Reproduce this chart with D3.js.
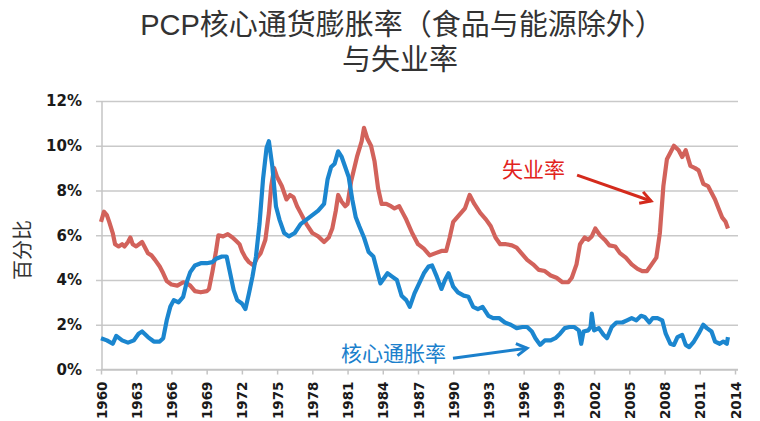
<!DOCTYPE html>
<html>
<head>
<meta charset="utf-8">
<script src="https://cdn.jsdelivr.net/npm/d3@7"></script>
<style>
	body { margin: 0; background: #fff; }
	svg { display: block; }
</style>
</head>
<body>
<div id="chart"></div>
<script>
/* data */
var xTickYears = [1960, 1963, 1966, 1969, 1972, 1975, 1978, 1981, 1984, 1987, 1990, 1993, 1996, 1999, 2002, 2005, 2008, 2011, 2014];
var yTicks = [0, 2, 4, 6, 8, 10, 12];

// unemployment rate (%)
var unempYears = [1960.0, 1960.25, 1960.5, 1960.7, 1961.0, 1961.2, 1961.5, 1961.8, 1962.0, 1962.3, 1962.5, 1962.7, 1963.0, 1963.5, 1964.0, 1964.3, 1964.6, 1965.0, 1965.3, 1965.6, 1966.0, 1966.5, 1967.0, 1967.3, 1967.6, 1968.0, 1968.5, 1969.0, 1969.2, 1969.5, 1969.8, 1970.0, 1970.4, 1970.8, 1971.2, 1971.5, 1971.8, 1972.0, 1972.3, 1972.6, 1973.0, 1973.3, 1973.6, 1974.0, 1974.3, 1974.5, 1974.75, 1975.0, 1975.4, 1975.8, 1976.1, 1976.4, 1976.7, 1977.0, 1977.5, 1978.0, 1978.5, 1979.0, 1979.4, 1979.7, 1980.0, 1980.2, 1980.5, 1980.8, 1981.0, 1981.3, 1981.8, 1982.2, 1982.4, 1982.7, 1983.0, 1983.3, 1983.6, 1983.9, 1984.3, 1984.7, 1985.0, 1985.4, 1985.7, 1986.0, 1986.5, 1987.0, 1987.5, 1988.0, 1988.5, 1989.0, 1989.4, 1989.7, 1990.0, 1990.5, 1991.0, 1991.4, 1991.8, 1992.3, 1992.8, 1993.2, 1993.6, 1994.0, 1994.5, 1995.0, 1995.4, 1995.8, 1996.3, 1996.8, 1997.3, 1997.8, 1998.3, 1998.8, 1999.3, 1999.8, 2000.1, 2000.5, 2000.8, 2001.2, 2001.5, 2001.8, 2002.1, 2002.5, 2002.9, 2003.3, 2003.8, 2004.2, 2004.7, 2005.2, 2005.7, 2006.1, 2006.5, 2006.9, 2007.3, 2007.6, 2007.9, 2008.2, 2008.5, 2008.8, 2009.2, 2009.5, 2009.8, 2010.2, 2010.6, 2010.9, 2011.3, 2011.7, 2012.0, 2012.3, 2012.6, 2012.9, 2013.2, 2013.4];
var unempValues = [6.6, 7.05, 6.9, 6.6, 6.1, 5.6, 5.5, 5.6, 5.5, 5.7, 5.9, 5.6, 5.5, 5.7, 5.2, 5.1, 4.9, 4.6, 4.3, 3.95, 3.8, 3.75, 3.9, 3.85, 3.75, 3.5, 3.45, 3.5, 3.6, 4.4, 5.3, 6.0, 5.95, 6.05, 5.9, 5.75, 5.6, 5.3, 5.0, 4.8, 4.65, 5.0, 5.2, 5.8, 7.0, 8.2, 9.0, 8.6, 8.2, 7.6, 7.8, 7.7, 7.3, 7.0, 6.5, 6.1, 5.95, 5.7, 5.9, 6.3, 7.1, 7.8, 7.5, 7.3, 7.4, 8.4, 9.5, 10.2, 10.8, 10.3, 10.0, 9.3, 8.1, 7.4, 7.4, 7.3, 7.2, 7.3, 7.0, 6.7, 6.1, 5.6, 5.4, 5.1, 5.2, 5.3, 5.3, 5.9, 6.6, 6.9, 7.2, 7.8, 7.4, 7.0, 6.7, 6.4, 5.9, 5.6, 5.6, 5.55, 5.45, 5.2, 4.9, 4.7, 4.45, 4.4, 4.2, 4.1, 3.9, 3.9, 4.1, 4.7, 5.6, 5.9, 5.8, 5.95, 6.3, 6.0, 5.8, 5.55, 5.5, 5.2, 5.0, 4.7, 4.5, 4.4, 4.4, 4.7, 5.0, 6.1, 8.2, 9.4, 9.7, 10.0, 9.8, 9.5, 9.8, 9.1, 9.0, 8.9, 8.3, 8.2, 7.9, 7.6, 7.2, 6.8, 6.6, 6.3];

// core inflation (%)
var coreYears = [1960.0, 1960.5, 1961.0, 1961.3, 1961.8, 1962.3, 1962.8, 1963.2, 1963.5, 1964.0, 1964.5, 1965.0, 1965.3, 1965.6, 1965.9, 1966.2, 1966.6, 1967.0, 1967.3, 1967.6, 1968.0, 1968.5, 1969.0, 1969.5, 1969.8, 1970.3, 1970.7, 1971.0, 1971.3, 1971.6, 1972.0, 1972.3, 1972.6, 1972.9, 1973.2, 1973.5, 1973.8, 1974.1, 1974.3, 1974.6, 1974.9, 1975.2, 1975.6, 1976.0, 1976.5, 1977.0, 1977.5, 1978.0, 1978.5, 1979.0, 1979.3, 1979.6, 1979.9, 1980.2, 1980.5, 1980.8, 1981.1, 1981.4, 1981.7, 1982.0, 1982.4, 1982.8, 1983.2, 1983.5, 1983.8, 1984.0, 1984.4, 1984.8, 1985.2, 1985.6, 1986.0, 1986.3, 1986.7, 1987.1, 1987.5, 1987.9, 1988.2, 1988.6, 1989.0, 1989.3, 1989.6, 1990.0, 1990.4, 1990.9, 1991.3, 1991.7, 1992.1, 1992.5, 1993.0, 1993.4, 1993.9, 1994.4, 1994.9, 1995.4, 1995.9, 1996.3, 1996.7, 1997.0, 1997.4, 1997.8, 1998.3, 1998.7, 1999.1, 1999.5, 1999.9, 2000.3, 2000.7, 2000.9, 2001.1, 2001.5, 2001.7, 2001.8, 2002.0, 2002.4, 2002.8, 2003.1, 2003.5, 2003.9, 2004.4, 2004.8, 2005.2, 2005.6, 2006.0, 2006.3, 2006.7, 2007.0, 2007.4, 2007.8, 2008.1, 2008.5, 2008.8, 2009.1, 2009.5, 2009.8, 2010.1, 2010.5, 2010.9, 2011.3, 2011.6, 2012.0, 2012.3, 2012.7, 2013.0, 2013.3, 2013.4];
var coreValues = [1.4, 1.3, 1.15, 1.5, 1.3, 1.2, 1.3, 1.6, 1.7, 1.45, 1.25, 1.25, 1.4, 2.2, 2.8, 3.1, 3.0, 3.25, 3.9, 4.35, 4.65, 4.75, 4.75, 4.8, 4.95, 5.05, 5.05, 4.3, 3.55, 3.1, 2.95, 2.7, 3.4, 4.15, 5.05, 6.5, 8.5, 9.9, 10.2, 9.05, 7.3, 6.7, 6.1, 5.95, 6.1, 6.5, 6.7, 6.9, 7.1, 7.4, 8.5, 9.05, 9.2, 9.75, 9.5, 9.05, 8.6, 7.6, 6.8, 6.4, 5.9, 5.25, 5.05, 4.45, 3.85, 4.0, 4.3, 4.15, 4.0, 3.3, 3.1, 2.8, 3.4, 3.85, 4.3, 4.6, 4.65, 4.15, 3.6, 4.0, 4.3, 3.7, 3.45, 3.3, 3.25, 2.8, 2.7, 2.8, 2.4, 2.3, 2.3, 2.1, 2.0, 1.85, 1.9, 1.9, 1.7, 1.4, 1.1, 1.3, 1.3, 1.4, 1.6, 1.85, 1.9, 1.9, 1.75, 1.15, 1.7, 1.75, 1.9, 2.5, 1.75, 1.85, 1.55, 1.4, 1.9, 2.1, 2.1, 2.2, 2.3, 2.2, 2.4, 2.35, 2.1, 2.3, 2.3, 2.2, 1.6, 1.15, 1.1, 1.45, 1.55, 1.1, 1.0, 1.25, 1.6, 2.0, 1.85, 1.7, 1.25, 1.15, 1.25, 1.15, 1.45];

var unemp = unempYears.map(function (yr, i) { return { year: yr, value: unempValues[i] }; });
var core = coreYears.map(function (yr, i) { return { year: yr, value: coreValues[i] }; });

/* chart area */
var width = 760;
var height = 421;
var svg = d3.select('#chart').append('svg')
	.attr('width', width)
	.attr('height', height);

var cjk = '"Liberation Sans", Arial, "Noto Sans CJK SC", sans-serif';
var tickFont = '"DejaVu Sans", Verdana, sans-serif';

var xScale = d3.scaleLinear().domain([1960, 2014]).range([101, 735]);
var yScale = d3.scaleLinear().domain([0, 12]).range([369.5, 101]);

// gridlines + y labels (axis drawn from the right edge so the lines run across)
var gridRight = 738;
var yAxis = d3.axisLeft(yScale)
	.tickValues(yTicks)
	.tickSize(gridRight - 96)
	.tickPadding(14)
	.tickFormat(function (d) { return d + '%'; });
var gy = svg.append('g')
	.attr('transform', 'translate(' + gridRight + ',0)')
	.call(yAxis);
gy.select('.domain').remove();
gy.selectAll('line').attr('stroke', '#c9c9c9').attr('stroke-width', 1.5);
gy.selectAll('text')
	.attr('font-family', tickFont)
	.attr('font-weight', 'bold')
	.attr('font-size', 15)
	.attr('fill', '#1a1a1a');

// y axis line
svg.append('line')
	.attr('x1', 102).attr('x2', 102)
	.attr('y1', yScale(12)).attr('y2', yScale(0))
	.attr('stroke', '#c4c4c4')
	.attr('stroke-width', 1.5);

// x axis
var xAxis = d3.axisBottom(xScale)
	.tickValues(xTickYears)
	.tickSizeInner(5)
	.tickSizeOuter(0)
	.tickFormat(d3.format('d'));
var gx = svg.append('g')
	.attr('transform', 'translate(0,' + yScale(0) + ')')
	.call(xAxis);
gx.select('.domain').attr('stroke', '#c4c4c4').attr('stroke-width', 1.5)
	.attr('d', 'M' + xScale(1960) + ',0H' + gridRight);
gx.selectAll('line').attr('stroke', '#c4c4c4').attr('stroke-width', 1.5);
gx.selectAll('text')
	.attr('font-family', tickFont)
	.attr('font-weight', 'bold')
	.attr('font-size', 13.5)
	.attr('fill', '#1a1a1a')
	.attr('text-anchor', 'end')
	.attr('dy', null)
	.attr('y', 0)
	.attr('transform', 'translate(0,12) rotate(-90)')
	.attr('x', 0)
	.attr('dominant-baseline', 'central');

// lines
var line = d3.line()
	.x(function (d) { return xScale(d.year); })
	.y(function (d) { return yScale(d.value); });

svg.append('path')
	.datum(unemp)
	.attr('d', line)
	.attr('fill', 'none')
	.attr('stroke', '#d2625b')
	.attr('stroke-width', 4.2)
	.attr('stroke-linejoin', 'round');

svg.append('path')
	.datum(core)
	.attr('d', line)
	.attr('fill', 'none')
	.attr('stroke', '#1b86cf')
	.attr('stroke-width', 4.2)
	.attr('stroke-linejoin', 'round');

// title
var title = svg.append('text')
	.attr('x', 402)
	.attr('text-anchor', 'middle')
	.attr('font-family', cjk)
	.attr('font-size', 29)
	.attr('fill', '#333');
title.append('tspan').attr('x', 402).attr('y', 35).text('PCP核心通货膨胀率（食品与能源除外）');
title.append('tspan').attr('x', 400).attr('y', 70).text('与失业率');

// y axis title
svg.append('text')
	.attr('transform', 'translate(23,250) rotate(-90)')
	.attr('text-anchor', 'middle')
	.attr('dominant-baseline', 'central')
	.attr('font-family', cjk)
	.attr('font-size', 20)
	.attr('fill', '#333')
	.text('百分比');

// annotations with arrows
var defs = svg.append('defs');
function arrowMarker(id, colour) {
	defs.append('marker')
		.attr('id', id)
		.attr('viewBox', '0 0 10 10')
		.attr('refX', 8).attr('refY', 5)
		.attr('markerWidth', 5).attr('markerHeight', 5)
		.attr('orient', 'auto')
		.append('path')
		.attr('d', 'M1,1L8,5L1,9')
		.attr('fill', 'none')
		.attr('stroke', colour)
		.attr('stroke-width', 2);
}
arrowMarker('arrow_red', '#d42a1c');
arrowMarker('arrow_blue', '#1b80cc');

svg.append('text')
	.attr('x', xScale(1994.15)).attr('y', yScale(8.6))
	.attr('font-family', cjk)
	.attr('font-size', 21)
	.attr('fill', '#e2231c')
	.text('失业率');
svg.append('line')
	.attr('x1', xScale(2000.55)).attr('y1', yScale(8.69))
	.attr('x2', xScale(2006.85)).attr('y2', yScale(7.53))
	.attr('stroke', '#d42a1c')
	.attr('stroke-width', 3)
	.attr('marker-end', 'url(#arrow_red)');

svg.append('text')
	.attr('x', xScale(1980.45)).attr('y', yScale(0.37))
	.attr('font-family', cjk)
	.attr('font-size', 21)
	.attr('fill', '#1b80cc')
	.text('核心通胀率');
svg.append('line')
	.attr('x1', xScale(1989.98)).attr('y1', yScale(0.5))
	.attr('x2', xScale(1996.29)).attr('y2', yScale(0.95))
	.attr('stroke', '#1b80cc')
	.attr('stroke-width', 3)
	.attr('marker-end', 'url(#arrow_blue)');
</script>
</body>
</html>
